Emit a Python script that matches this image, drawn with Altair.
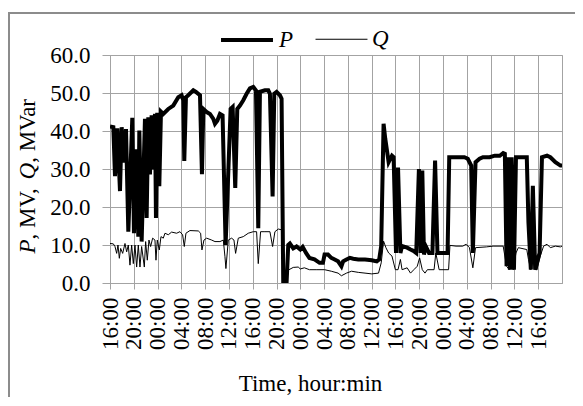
import altair as alt
import pandas as pd

# Active power P (MW) — hours since the first 16:00 tick
P_HOURS = [0.0, 0.56, 0.84, 1.23, 1.68, 1.96, 2.35, 2.69, 3.08, 3.75, 4.03, 4.37, 4.76, 4.93,
           5.32, 5.88, 6.16, 6.44, 6.72, 7.00, 7.28, 7.56, 7.73, 7.95, 8.29, 8.57, 8.96, 9.80,
           10.64, 11.48, 12.04, 12.32, 12.49, 12.77, 13.16, 14.01, 14.45, 15.13, 15.46, 15.69,
           16.25, 16.81, 17.37, 17.65, 18.04, 18.49, 18.93, 19.44, 20.28, 20.62, 21.06, 21.40,
           21.85, 22.41, 22.97, 23.53, 24.09, 24.54, 24.93, 25.21, 26.05, 26.61, 26.89, 27.34,
           27.62, 28.01, 28.57, 28.85, 29.13, 29.69, 29.97, 30.25, 30.81, 31.37,
           32.0, 32.4, 32.96, 33.53, 34.38, 35.23, 35.80, 36.08, 36.65, 37.21, 37.78, 38.35,
           38.91, 39.20, 39.76, 40.33, 40.90, 41.75, 42.88, 44.01, 44.86, 45.26, 45.60, 46.0,
           46.28, 46.85, 47.41, 47.69, 48.09, 48.43, 48.83, 49.11, 49.96, 50.53, 51.09, 51.49,
           51.94, 52.23, 52.51, 52.79, 53.08, 53.64, 54.21, 54.66, 55.06, 55.91, 56.76, 57.04,
           57.61, 58.74, 59.59, 60.16, 60.73, 61.01, 61.46, 62.14, 62.71, 63.84, 64.69, 65.54,
           66.11, 66.39, 66.68, 66.96, 67.24, 67.53, 67.92, 68.26, 69.51, 70.08, 70.36, 70.76,
           71.10, 71.49, 72.23, 72.63, 73.48, 74.04, 74.89, 75.74, 76.0]
P_VALUES = [41.2, 41.0, 28.1, 40.7, 24.2, 41.0, 31.7, 40.5, 13.5, 43.5, 13.1, 35.2, 12.2, 40.1,
            10.9, 43.2, 17.1, 43.6, 28.6, 44.1, 29.9, 44.5, 17.1, 44.8, 25.5, 45.1, 44.5, 45.8,
            46.7, 48.9, 49.4, 48.1, 32.1, 48.9, 49.4, 50.7, 50.3, 49.4, 28.6, 45.8,
            45.0, 44.5, 43.2, 41.9, 42.7, 44.5, 44.1, 10.0, 45.8, 46.3, 25.0, 45.8,
            46.7, 48.1, 49.8, 51.2, 51.6, 50.7, 14.4, 50.3, 50.7, 50.7, 49.8, 22.8,
            49.8, 50.3, 49.4, 48.5, 0.0, 0.0, 10.0, 10.4, 9.1, 9.6,
            8.8, 9.5, 7.9, 6.6, 6.2, 5.3, 5.3, 7.5, 7.5, 6.6, 6.2, 5.7,
            4.4, 5.7, 6.2, 6.6, 6.4, 6.2, 6.2, 6.0, 5.7, 6.2, 9.7, 41.9,
            38.0, 31.8, 33.5, 33.1, 7.9, 30.4, 7.9, 9.7, 9.3, 8.8, 8.4, 7.9,
            30.0, 7.9, 29.6, 7.5, 9.7, 7.9, 7.9, 32.2, 7.9, 7.9, 7.9, 33.1,
            33.1, 33.1, 33.1, 32.7, 30.9, 7.9, 31.8, 32.7, 33.1, 33.1, 33.5, 33.5,
            34.2, 34.0, 4.4, 33.1, 3.5, 33.1, 3.5, 33.1, 33.1, 33.1, 15.9, 3.5,
            25.6, 3.5, 7.9, 33.1, 33.5, 33.1, 31.8, 30.9, 30.9]

# Reactive power Q (MVar)
Q_HOURS = [0.0, 0.56, 0.84, 1.12, 1.34, 1.57, 1.79, 2.13, 2.52, 2.80, 3.08, 3.36, 3.64, 3.92,
           4.20, 4.48, 4.76, 5.04, 5.32, 5.77, 5.99, 6.27, 6.55, 6.83, 7.17, 7.56, 7.73, 7.95,
           8.29, 8.57, 8.96, 9.24, 9.80, 10.36, 11.20, 11.76, 12.21, 12.49, 12.77, 13.44, 14.85,
           15.24, 15.46, 15.80, 16.25, 17.09, 17.65, 18.49, 19.05, 19.33, 19.49, 19.89, 20.45,
           20.84, 21.12, 21.57, 22.41, 23.25, 24.09, 24.65, 24.93, 25.32, 26.05, 26.89, 27.34,
           27.73, 28.29, 28.85, 29.13, 29.69, 29.97, 30.81, 31.65,
           32.0, 32.68, 33.53, 34.66, 36.08, 37.21, 38.35, 38.91, 39.76, 40.61, 41.75, 42.88,
           44.01, 45.15, 45.60, 46.0, 46.39, 46.85, 47.41, 47.98, 48.43, 48.83, 49.11, 49.96,
           50.53, 51.09, 51.66, 52.06, 52.51, 52.96, 53.36, 54.49, 54.78, 55.34, 56.93, 57.16,
           58.18, 59.31, 59.88, 60.44, 61.01, 61.46, 63.28, 64.41, 66.11, 66.68, 67.13, 67.53,
           67.81, 68.26, 68.66, 70.08, 70.36, 70.76, 71.21, 71.78, 72.34, 72.91, 73.48, 74.04,
           74.89, 75.74, 76.0]
Q_VALUES = [10.4, 10.3, 9.6, 7.8, 10.0, 6.5, 9.1, 7.8, 10.4, 8.2, 10.0, 4.7, 10.0, 5.1,
            10.0, 4.2, 10.0, 4.2, 9.6, 4.2, 10.9, 6.0, 11.3, 9.6, 11.8, 11.3, 6.0, 11.3,
            8.7, 12.2, 11.8, 13.1, 12.7, 13.4, 13.1, 13.5, 12.7, 9.6, 13.1, 13.8, 13.7,
            13.1, 8.7, 11.3, 11.8, 11.3, 10.9, 10.9, 11.3, 6.9, 3.8, 11.3, 11.8,
            11.3, 7.8, 11.8, 12.2, 13.1, 13.5, 13.5, 5.1, 13.5, 13.5, 13.5, 9.6,
            13.5, 14.2, 14.0, 0.0, 0.0, 3.4, 4.1, 4.2,
            3.7, 4.0, 3.5, 3.5, 3.5, 3.1, 2.6, 1.9, 2.6, 3.1, 2.8, 2.6,
            2.4, 2.6, 5.3, 11.0, 9.3, 7.9, 7.1, 3.5, 3.5, 6.2, 3.5, 4.0,
            2.6, 3.5, 4.4, 6.6, 3.5, 2.6, 3.5, 3.5, 7.9, 3.5, 3.5, 9.9,
            9.7, 9.7, 10.2, 9.3, 4.0, 9.3, 9.5, 9.7, 9.7, 4.4, 3.5, 8.8,
            3.5, 7.9, 9.3, 8.8, 6.2, 3.5, 7.1, 3.5, 7.1, 9.7, 10.2, 9.3,
            9.7, 9.5, 9.7]

SERIES = ["P", "Q"]
SERIES_WIDTHS = [4, 1]
TICK_HOURS = list(range(0, 73, 4))
TICK_LABELS = ["16:00", "20:00", "00:00", "04:00", "08:00", "12:00", "16:00", "20:00",
               "00:00", "04:00", "08:00", "12:00", "16:00", "20:00", "00:00", "04:00",
               "08:00", "12:00", "16:00"]
Y_TICKS = [0, 10, 20, 30, 40, 50, 60]
X_TITLE = "Time, hour:min"
Y_TITLE_PARTS = [("P", "italic"), (", MV, ", "normal"), ("Q", "italic"), (", MVar", "normal")]

W, H = 452, 228
FONT = "Liberation Serif, Times New Roman, serif"
FS = 23
GRID = "#a3a3a3"

df = pd.concat([
    pd.DataFrame({"h": P_HOURS, "v": P_VALUES, "s": "P"}),
    pd.DataFrame({"h": Q_HOURS, "v": Q_VALUES, "s": "Q"}),
], ignore_index=True)

label_expr = "[" + ",".join("'%s'" % t for t in TICK_LABELS) + "][round(datum.value/4)]"

legend = alt.Legend(orient="none", legendX=109, legendY=-43, direction="horizontal",
                    title=None, symbolType="stroke", symbolSize=2700, labelFont=FONT,
                    labelFontStyle="italic", labelFontSize=FS, labelColor="black",
                    columnPadding=19, labelOffset=4, padding=0)

lines = alt.Chart(df).mark_line(clip=True).encode(
    x=alt.X("h:Q", scale=alt.Scale(domain=[0, 76], nice=False, zero=False),
            axis=alt.Axis(values=TICK_HOURS, labelExpr=label_expr, labelAngle=270,
                          labelAlign="right", labelBaseline="middle", labelPadding=8,
                          labelOverlap=False, labelFlush=False, labelBound=False,
                          tickSize=6, title=X_TITLE, titleX=200, titleY=100,
                          titleAlign="center", titleBaseline="middle")),
    y=alt.Y("v:Q", scale=alt.Scale(domain=[0, 60], nice=False),
            axis=alt.Axis(values=Y_TICKS, format=".1f", tickSize=8, labelPadding=12,
                          title=None)),
    color=alt.Color("s:N", scale=alt.Scale(domain=SERIES, range=["black", "black"]),
                    legend=legend),
    strokeWidth=alt.StrokeWidth("s:N", scale=alt.Scale(domain=SERIES, range=SERIES_WIDTHS),
                                legend=legend),
)

one = pd.DataFrame({"k": [0]})
border = alt.Chart(one).mark_rect(fillOpacity=0, stroke="#8c8c8c", strokeWidth=2,
                                  clip=False).encode(
    x=alt.value(-101), x2=alt.value(W + 40), y=alt.value(-42), y2=alt.value(H + 140))

# rotated y-axis title made of italic / upright pieces
widths = {"P": 0.611, ", MV, ": 2.611, "Q": 0.722, ", MVar": 2.888}
total = sum(widths[t] for t, _ in Y_TITLE_PARTS) * FS
y0 = 120 + total / 2
title_layers = []
for text, style in Y_TITLE_PARTS:
    title_layers.append(
        alt.Chart(one).mark_text(text=text, angle=270, align="left", baseline="middle",
                                 font=FONT, fontSize=FS, fontStyle=style, color="black",
                                 clip=False)
        .encode(x=alt.value(-82), y=alt.value(y0)))
    y0 -= widths[text] * FS

chart = alt.layer(border, lines, *title_layers).properties(
    width=W, height=H,
    autosize=alt.AutoSizeParams(type="none"),
    padding={"left": 102, "top": 47, "right": 13, "bottom": 114},
    background="white",
).configure_axis(
    grid=True, gridColor=GRID, gridWidth=1, domainColor=GRID, tickColor=GRID,
    labelFont=FONT, labelFontSize=FS, labelColor="black",
    titleFont=FONT, titleFontSize=FS, titleColor="black", titleFontWeight="normal",
).configure_view(stroke=GRID, strokeWidth=1)

chart.save("out.html", embed_options={"renderer": "svg", "actions": False})
